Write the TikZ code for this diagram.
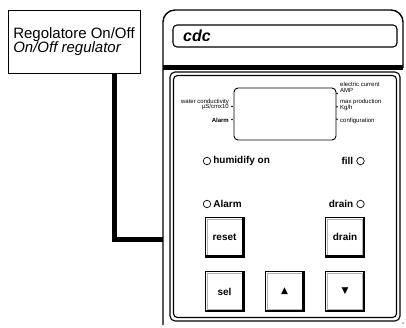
\documentclass[tikz,border=0pt]{standalone}
\usepackage{fontspec}
\setmainfont{Liberation Sans}
\newfontfamily\symfont{DejaVu Sans}
\usepackage{tikz}
\usetikzlibrary{positioning, calc}

\tikzset{
    frameline/.style={line width=1.4pt},
    wire/.style={line width=5pt},
    panelline/.style={line width=1.1pt},
    lcdtext/.style={font=\fontsize{6}{5.8}\selectfont, inner sep=0pt},
    led/.style={circle, draw, line width=0.7pt, minimum size=7.5pt, inner sep=0pt},
    ledtext/.style={font=\fontsize{10}{12}\selectfont\bfseries, inner sep=0pt},
    keybox/.style={draw, line width=0.9pt, minimum width=39pt, minimum height=40pt,
                   inner sep=0pt, fill=white, font=\fontsize{10}{12}\selectfont\bfseries}
}

\begin{document}
\begin{tikzpicture}[x=1pt, y=-1pt]
    \useasboundingbox (0,0) rectangle (406,327);

    % Label box and the wire to the case
    \node[draw, line width=0.9pt, minimum width=132pt, minimum height=63pt, inner xsep=5pt,
          align=left, font=\fontsize{15}{14}\selectfont] (regbox) at (74,41.5)
          {Regolatore On/Off\\ \itshape On/Off regulator};
    \coordinate (tap) at (114.5,239.5);
    \coordinate (join) at (163,239.5);
    \draw[wire] (regbox.south -| tap) -- (tap) -- (join);

    % Case outline and top bar
    \draw[frameline, rounded corners=12pt] (163,325) -- (163,10) -- (403,10) -- (403,68);
    \draw[line width=5pt] (163,67.5) -- (403,67.5);
    \node[draw, line width=1.1pt, rounded corners=4pt, minimum width=224pt, minimum height=22pt,
          inner sep=0pt] (display) at (285,36) {};
    \node[font=\fontsize{16}{16}\selectfont\bfseries\itshape, anchor=west, inner sep=0pt]
          (cdc) at (183,36) {cdc};

    % Front panel (double edge)
    \draw[panelline, rounded corners=5pt] (170,72) -- (400,72) -- (400,321) -- (170,321) -- cycle;
    \draw[panelline, rounded corners=4pt] (173.5,75.5) -- (396.5,75.5) -- (396.5,317.5) -- (173.5,317.5) -- cycle;
    \fill (403,323) circle (0.7);

    % LCD and its legends
    \node[draw, line width=0.9pt, rounded corners=4pt, minimum width=102pt, minimum height=52pt,
          inner sep=0pt] (lcd) at (285,114) {};
    \node[lcdtext, anchor=east, align=right] (cond) at (229,104.5) {water conductivity\\ µS/cmx10};
    \node[lcdtext, anchor=east, font=\fontsize{6}{6}\selectfont\bfseries] (alarmlcd) at (229,120.5) {Alarm};
    \node[lcdtext, anchor=west, align=left] (amp) at (340,87.5) {electric current\\ AMP};
    \node[lcdtext, anchor=west, align=left] (prod) at (340,105) {max production\\ Kg/h};
    \node[lcdtext, anchor=west] (conf) at (340,120.5) {configuration};
    \foreach \p in {(232,106.5), (232,119.5), (337,93.5), (337,106.7), (337,119.3)}
        \fill \p circle (0.9);

    % LEDs
    \node[led] (humled) at (207,161) {};
    \node[ledtext, right=2pt of humled] (humtext) {humidify on};
    \node[led] (fillled) at (360.5,161) {};
    \node[ledtext, left=3pt of fillled] (filltext) {fill};
    \node[led] (alarmled) at (207,204) {};
    \node[ledtext, right=2pt of alarmled] (alarmtext) {Alarm};
    \node[led] (drainled) at (360.5,204) {};
    \node[ledtext, left=3pt of drainled] (draintext) {drain};

    % Keys
    \node[keybox] (reset) at (224.5,237) {reset};
    \node[keybox] (drain) at (345,237) {drain};
    \node[keybox] (sel) at (224.5,291.5) {sel};
    \node[keybox, font=\fontsize{9}{9}\selectfont\symfont] (up) at (284.5,291.5) {▲};
    \node[keybox, font=\fontsize{9}{9}\selectfont\symfont] (down) at (345,291.5) {▼};
    \foreach \k in {reset, drain, sel, up, down} {
        \draw[gray!60, line width=0.8pt] ([shift={(2.5,2.5)}]\k.north west) rectangle ([shift={(-2.5,-2.5)}]\k.south east);
        \draw[line width=2pt] ([shift={(-1,0)}]\k.north east) -- ([shift={(-1,-1)}]\k.south east) -- ([shift={(0,-1)}]\k.south west);
    }
\end{tikzpicture}
\end{document}
